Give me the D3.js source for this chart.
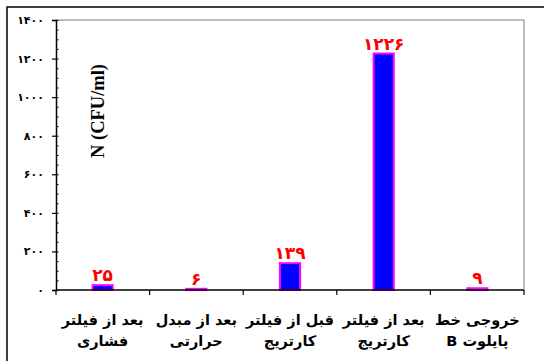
<!DOCTYPE html>
<html>
<head>
<meta charset="utf-8">
<script src="https://cdn.jsdelivr.net/npm/d3@7"></script>
<style>
  html, body { margin: 0; padding: 0; background: #fff; }
  svg { display: block; }
</style>
</head>
<body>
<svg id="chart" width="544" height="361"></svg>
<script>
// Sampling points (two-line labels) and colony counts
const categories = [
  ["بعد از فیلتر", "فشاری"],
  ["بعد از مبدل", "حرارتی"],
  ["قبل از فیلتر", "کارتریج"],
  ["بعد از فیلتر", "کارتریج"],
  ["خروجی خط", "پایلوت B"]
];
const values = [25, 6, 139, 1226, 9];
const valueLabels = ["۲۵", "۶", "۱۳۹", "۱۲۲۶", "۹"];
const yTicks = [0, 200, 400, 600, 800, 1000, 1200, 1400];
const yTickLabels = ["۰", "۲۰۰", "۴۰۰", "۶۰۰", "۸۰۰", "۱۰۰۰", "۱۲۰۰", "۱۴۰۰"];
const yTitle = "N (CFU/ml)";

const svg = d3.select("#chart");
const plot = { left: 56, right: 524, top: 20, bottom: 290 };

// outer chart frame
svg.append("rect")
  .attr("x", 7).attr("y", 7)
  .attr("width", 560).attr("height", 380)
  .attr("fill", "none").attr("stroke", "#000").attr("stroke-width", 1.5);

const x = d3.scaleBand()
  .domain(d3.range(categories.length))
  .range([plot.left, plot.right])
  .paddingInner(0.785).paddingOuter(0.39);

const y = d3.scaleLinear().domain([0, 1400]).range([plot.bottom, plot.top]);

// plot area top/right border
svg.append("path")
  .attr("d", `M${plot.left},${plot.top}H${plot.right}V${plot.bottom}`)
  .attr("fill", "none").attr("stroke", "#a6a6a6").attr("stroke-width", 1.5);

// bars
svg.append("g").selectAll("rect")
  .data(values)
  .join("rect")
  .attr("x", (d, i) => x(i))
  .attr("y", d => y(d))
  .attr("width", x.bandwidth())
  .attr("height", d => y(0) - y(d))
  .attr("fill", "#0000ff")
  .attr("stroke", "#ff00ff")
  .attr("stroke-width", 2);

// value labels
svg.append("g").selectAll("text")
  .data(values)
  .join("text")
  .attr("x", (d, i) => x(i) + x.bandwidth() / 2)
  .attr("y", d => y(d) - 4)
  .attr("text-anchor", "middle")
  .attr("fill", "#ff0000")
  .attr("font-family", "DejaVu Sans, sans-serif")
  .attr("font-weight", "bold")
  .attr("font-size", 17)
  .text((d, i) => valueLabels[i]);

// y axis: major ticks with labels (outside), major/minor ticks inside
const yAxis = d3.axisLeft(y)
  .tickValues(yTicks)
  .tickSize(4)
  .tickPadding(8)
  .tickFormat((d, i) => yTickLabels[i]);
const gy = svg.append("g").attr("transform", `translate(${plot.left},0)`).call(yAxis);
gy.select(".domain").attr("stroke", "#000").attr("stroke-width", 1.5);
gy.selectAll(".tick line").attr("stroke", "#000").attr("stroke-width", 1.2);
gy.selectAll(".tick text")
  .attr("font-family", "DejaVu Sans, sans-serif")
  .attr("font-weight", "bold")
  .attr("font-size", 11)
  .attr("fill", "#000");

const minorAxis = d3.axisRight(y)
  .tickValues(d3.range(0, 1401, 50))
  .tickSize(2.5)
  .tickFormat("");
const gm = svg.append("g").attr("transform", `translate(${plot.left},0)`).call(minorAxis);
gm.select(".domain").remove();
gm.selectAll(".tick line").attr("stroke", "#000").attr("stroke-width", 1);

// x axis with boundary ticks
const bounds = d3.range(categories.length + 1).map(i => plot.left + i * (plot.right - plot.left) / categories.length);
const gx = svg.append("g");
gx.append("line")
  .attr("x1", plot.left).attr("x2", plot.right)
  .attr("y1", plot.bottom).attr("y2", plot.bottom)
  .attr("stroke", "#000").attr("stroke-width", 1.5);
gx.selectAll("line.b")
  .data(bounds)
  .join("line")
  .attr("class", "b")
  .attr("x1", d => d).attr("x2", d => d)
  .attr("y1", plot.bottom).attr("y2", plot.bottom + 5)
  .attr("stroke", "#000").attr("stroke-width", 1.2);

// category labels, two right-to-left lines each
svg.append("g").selectAll("g")
  .data(categories)
  .join("g")
  .each(function (d, i) {
    d.forEach((line, j) => {
      d3.select(this).append("text")
        .attr("x", x(i) + x.bandwidth() / 2)
        .attr("y", 325 + j * 21)
        .attr("direction", "rtl")
        .attr("text-anchor", "middle")
        .attr("font-family", "DejaVu Sans, sans-serif")
        .attr("font-weight", "bold")
        .attr("font-size", 14.5)
        .attr("fill", "#000")
        .text(line);
    });
  });

// y axis title
svg.append("text")
  .attr("transform", "translate(104,111) rotate(-90)")
  .attr("text-anchor", "middle")
  .attr("font-family", "Liberation Serif, Times New Roman, serif")
  .attr("font-weight", "bold")
  .attr("font-size", 18.5)
  .attr("fill", "#000")
  .text(yTitle);
</script>
</body>
</html>
